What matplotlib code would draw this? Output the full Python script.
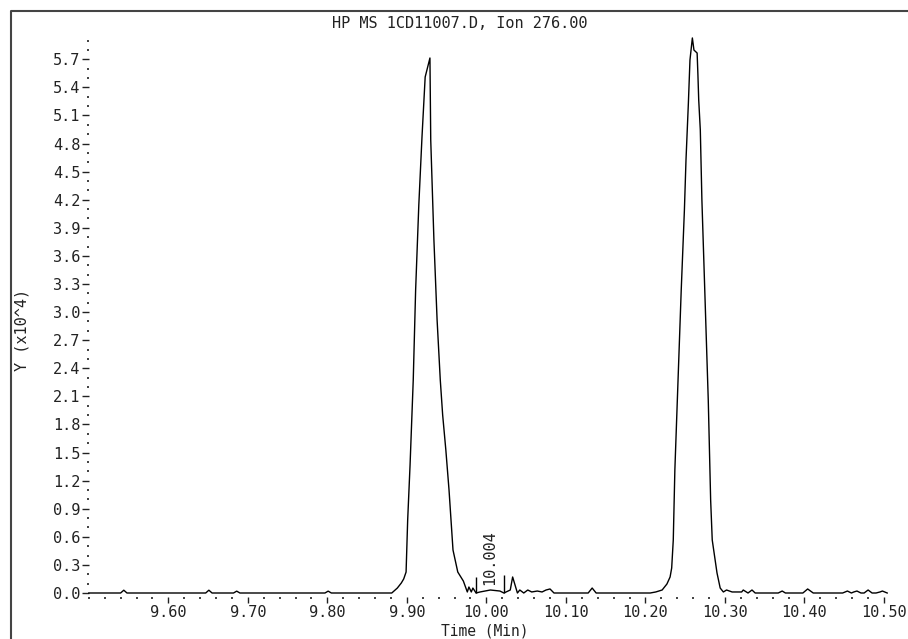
import matplotlib
matplotlib.use('Agg')
import matplotlib.pyplot as plt
from matplotlib.lines import Line2D

# ---- data ----
time_min = [
    9.500, 9.540, 9.544, 9.548,
    9.647, 9.651, 9.655,
    9.682, 9.686, 9.690,
    9.797, 9.801, 9.805,
    9.881, 9.888, 9.893, 9.896, 9.899, 9.901, 9.904, 9.908, 9.911, 9.915,
    9.919, 9.923, 9.929, 9.930, 9.934, 9.938, 9.942, 9.945, 9.949, 9.953,
    9.958, 9.964, 9.971, 9.976, 9.978, 9.981, 9.983, 9.987,
    9.992, 10.005, 10.017, 10.022,
    10.030, 10.033, 10.039, 10.042, 10.047, 10.052, 10.057, 10.064, 10.070,
    10.075, 10.080, 10.085, 10.090,
    10.128, 10.133, 10.138,
    10.206, 10.213, 10.221, 10.227, 10.231, 10.233, 10.235, 10.237, 10.241,
    10.245, 10.249, 10.251, 10.254, 10.256, 10.259, 10.261, 10.265, 10.266,
    10.267, 10.269, 10.271, 10.275, 10.279, 10.282, 10.284, 10.290, 10.294,
    10.298, 10.302, 10.309, 10.321, 10.323, 10.329, 10.334, 10.338,
    10.367, 10.372, 10.376, 10.398, 10.404, 10.411,
    10.448, 10.454, 10.459, 10.462, 10.466, 10.471, 10.475, 10.480, 10.485,
    10.490, 10.495, 10.498, 10.504,
]
abundance_e4 = [
    0, 0, 0.03, 0,
    0, 0.03, 0,
    0, 0.02, 0,
    0, 0.02, 0,
    0, 0.053, 0.107, 0.150, 0.224, 0.780, 1.367, 2.275, 3.236, 4.144,
    4.870, 5.511, 5.714, 4.838, 3.770, 2.916, 2.275, 1.901, 1.527, 1.100,
    0.459, 0.224, 0.128, 0.011, 0.064, 0.011, 0.053, 0,
    0.011, 0.032, 0.021, 0,
    0.032, 0.171, 0, 0.032, 0, 0.032, 0.011, 0.021, 0.011,
    0.032, 0.043, 0, 0,
    0, 0.053, 0,
    0, 0.011, 0.032, 0.096, 0.171, 0.267, 0.566, 1.314, 2.275,
    3.236, 4.091, 4.625, 5.233, 5.693, 5.928, 5.799, 5.767, 5.532,
    5.265, 4.945, 4.197, 3.129, 2.061, 0.993, 0.566, 0.214, 0.053,
    0.011, 0.032, 0.011, 0.011, 0.032, 0, 0.032, 0,
    0, 0.021, 0, 0, 0.043, 0,
    0, 0.021, 0, 0.011, 0.021, 0, 0, 0.032, 0,
    0, 0.011, 0.021, 0,
]

peak_label_rt = 10.004
peak_label_text = "10.004"
peak_label_base = 0.09
integration_times = [9.987, 10.022]
integration_heights = [0.171, 0.192]

x_major_ticks = [9.60, 9.70, 9.80, 9.90, 10.00, 10.10, 10.20, 10.30, 10.40, 10.50]
x_major_labels = ["9.60", "9.70", "9.80", "9.90", "10.00", "10.10", "10.20", "10.30", "10.40", "10.50"]
x_minor_ticks = [9.50 + 0.02 * i for i in range(51)]
y_major_ticks = [0.3 * i for i in range(20)]
y_major_labels = ["%.1f" % v for v in y_major_ticks]
y_minor_ticks = [0.1 * i for i in range(60)]

title_text = "HP MS 1CD11007.D, Ion 276.00"
xlabel_text = "Time (Min)"
ylabel_text = "Y (x10^4)"

# ---- figure ----
FONT = 'DejaVu Sans Mono'
FS = 11
TXT = '#222222'

fig = plt.figure(figsize=(9.08, 6.39), dpi=100)
W, H = 908.0, 639.0

ax = fig.add_axes([88.8 / W, 1 - 597 / H, 1 - 88.8 / W, (597 - 11) / H])
ax.plot(time_min, abundance_e4, color='black', lw=1.0, clip_on=False)
ax.vlines(integration_times, 0, integration_heights, color='black', lw=1.0)
ax.text(peak_label_rt, peak_label_base, peak_label_text, rotation=90,
        ha='center', va='bottom', family=FONT, fontsize=FS, color=TXT)

ax.set_xlim(9.50, 9.50 + (W - 88.8) / 795.2)
ax.set_ylim(-4 / 93.63, (593 - 11) / 93.63)
for s in ax.spines.values():
    s.set_visible(False)

ax.set_xticks(x_major_ticks)
ax.set_xticklabels(x_major_labels)
ax.set_xticks(x_minor_ticks, minor=True)
ax.set_yticks(y_major_ticks)
ax.set_yticklabels(y_major_labels)
ax.set_yticks(y_minor_ticks, minor=True)

ax.tick_params(axis='x', which='major', direction='out', length=4.5, width=1.0,
               pad=1.5, labelsize=FS, labelcolor=TXT, color='#222222')
ax.tick_params(axis='x', which='minor', direction='out', length=1.2, width=1.3,
               color='#333333')
ax.tick_params(axis='y', which='major', direction='out', length=5.0, width=1.0,
               pad=1.0, labelsize=FS, labelcolor=TXT, color='#222222')
ax.tick_params(axis='y', which='minor', direction='out', length=1.2, width=1.3,
               color='#333333')
for lab in ax.get_xticklabels() + ax.get_yticklabels():
    lab.set_family(FONT)

fig.text(460 / W, 1 - 23 / H, title_text, ha='center', va='center',
         family=FONT, fontsize=FS, color=TXT)
fig.text(485 / W, 1 - 638 / H, xlabel_text, ha='center', va='bottom',
         family=FONT, fontsize=FS - 0.5, color=TXT)
fig.text(22 / W, 1 - 330 / H, ylabel_text, ha='center', va='center', rotation=90,
         family=FONT, fontsize=FS, color=TXT)

# outer frame (left and top edges)
fig.add_artist(Line2D([11 / W, 11 / W, 1.0], [0.0, 1 - 11 / H, 1 - 11 / H],
                      transform=fig.transFigure, color='#444444', lw=1.5))

fig.savefig('out.png', dpi=100)
